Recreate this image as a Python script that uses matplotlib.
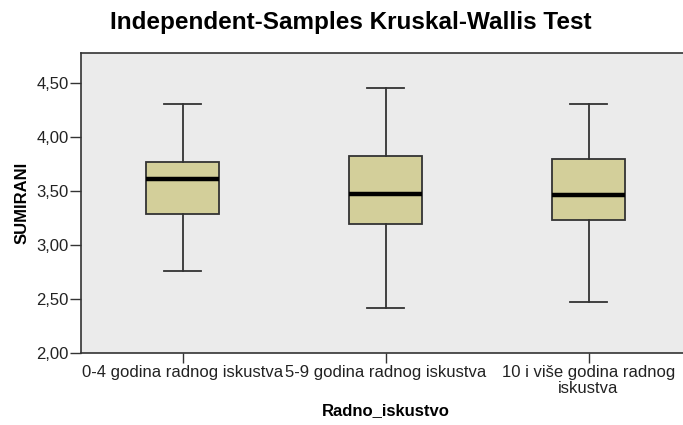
import matplotlib
matplotlib.use('Agg')
import matplotlib.pyplot as plt

plt.rcParams['font.family'] = ['Liberation Sans', 'DejaVu Sans']

categories = ['0-4 godina radnog iskustva', '5-9 godina radnog iskustva',
              '10 i više godina radnog\niskustva']
whislo = [2.76, 2.42, 2.47]
q1 = [3.29, 3.19, 3.23]
med = [3.61, 3.47, 3.46]
q3 = [3.77, 3.82, 3.80]
whishi = [4.31, 4.45, 4.31]
yticks = [2.0, 2.5, 3.0, 3.5, 4.0, 4.5]
ytick_labels = ['2,00', '2,50', '3,00', '3,50', '4,00', '4,50']

stats = []
for i in range(len(categories)):
    stats.append({'whislo': whislo[i], 'q1': q1[i], 'med': med[i],
                  'q3': q3[i], 'whishi': whishi[i], 'fliers': []})

fig = plt.figure(figsize=(6.83, 4.25), dpi=100)
# plot area runs slightly past the right edge, as in the original export
ax = fig.add_axes([81 / 683, 1 - 353 / 425, 609 / 683, 300 / 425])
ax.set_facecolor('#EBEBEB')

ax.bxp(stats, positions=[1, 2, 3], widths=0.364, patch_artist=True,
       showfliers=False,
       boxprops=dict(facecolor='#D3CF9A', edgecolor='#333333', linewidth=1.3),
       medianprops=dict(color='black', linewidth=3.2),
       whiskerprops=dict(color='#333333', linewidth=1.3),
       capprops=dict(color='#333333', linewidth=1.3),
       capwidths=0.187)

ax.set_xlim(0.5, 3.5)
ax.set_ylim(2.0, 2.0 + 300 / 108)
ax.set_yticks(yticks)
ax.set_yticklabels(ytick_labels, fontsize=12)
ax.set_xticks([1, 2, 3])
ax.set_xticklabels(categories, fontsize=12, linespacing=1.05)
ax.tick_params(axis='both', direction='out', length=7, width=1.0,
               color='#333333', labelcolor='#222222')
ax.tick_params(axis='y', length=8, pad=1)
ax.tick_params(axis='x', pad=2)

for s in ax.spines.values():
    s.set_color('#333333')
    s.set_linewidth(1.2)

ax.set_ylabel('SUMIRANI', fontsize=12, fontweight='bold', labelpad=5)
ax.set_xlabel('Radno_iskustvo', fontsize=12, fontweight='bold', labelpad=5)
fig.text(0.513, 1 - 22 / 425, 'Independent-Samples Kruskal-Wallis Test',
         ha='center', va='center', fontsize=17.5, fontweight='bold')

fig.savefig('out.png', dpi=100)
